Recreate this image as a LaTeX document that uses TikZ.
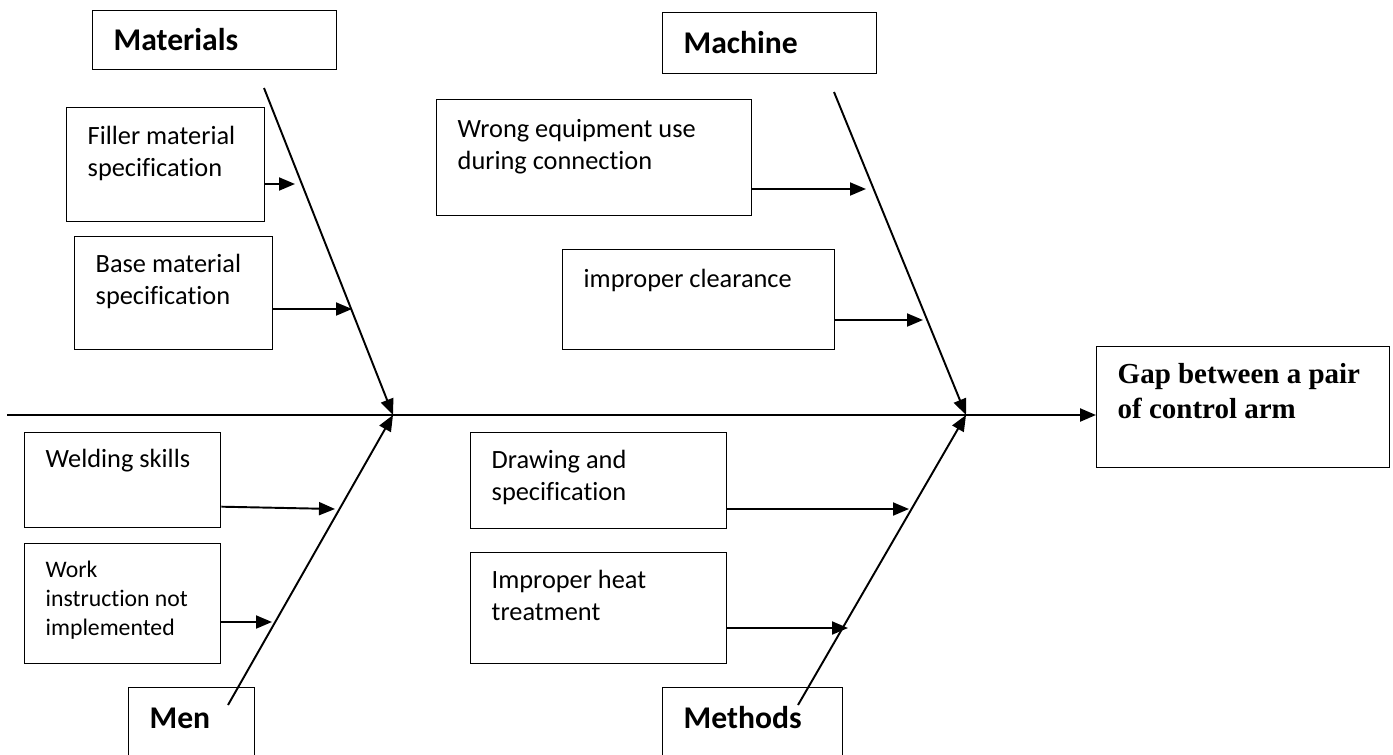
\documentclass[tikz,border=0pt]{standalone}
\usepackage{fontspec}
\setmainfont{Carlito}[Ligatures=NoCommon]
\newfontfamily\gapfont{Liberation Serif}
\usetikzlibrary{arrows.meta}

\begin{document}
\begin{tikzpicture}[x=0.02cm,y=-0.02cm,>={Triangle[length=0.32cm,width=0.26cm]},
    box/.style={draw,line width=0.8pt,anchor=north west,align=flush left,inner ysep=0pt,inner xsep=0.42cm},
    cause/.style={box,font=\fontsize{15}{18.2}\selectfont},
    head/.style={box,font=\fontsize{18}{20}\selectfont\bfseries,text height=0.82cm},
    bone/.style={->,line width=1.1pt}]
        \useasboundingbox (0,0) rectangle (1393,754);
        \clip (0,0) rectangle (1393,754);
        \node[head,text width=4.04cm,text height=0.8cm,text depth=0.38cm] (materials) at (92,10) {Materials};
        \node[head,text width=3.44cm,text depth=0.4cm] (machine) at (662,12) {Machine};
        \node[head,text width=1.68cm,text depth=0.8cm] (men) at (128,687) {Men};
        \node[head,text width=2.76cm,text depth=0.8cm] (methods) at (662,687) {Methods};
        \node[box,font=\gapfont\fontsize{16.5}{20}\selectfont\bfseries,text width=5.02cm,text height=0.74cm,text depth=1.68cm] (gap) at (1096,346) {Gap between a pair\\of control arm};
        \node[cause,text width=3.12cm,text height=0.74cm,text depth=1.54cm] (filler) at (66,107) {Filler material\\specification};
        \node[cause,text width=3.12cm,text height=0.72cm,text depth=1.54cm] (base) at (74,236) {Base material\\specification};
        \node[cause,text width=5.46cm,text height=0.76cm,text depth=1.56cm] (wrong) at (436,99) {Wrong equipment use\\during connection};
        \node[cause,text width=4.6cm,text height=0.76cm,text depth=1.24cm] (clearance) at (562,249) {improper clearance};
        \node[cause,text width=3.08cm,text height=0.7cm,text depth=1.2cm] (welding) at (24,432) {Welding skills};
        \node[box,font=\fontsize{13.5}{16.5}\selectfont,text width=3.08cm,text height=0.68cm,text depth=1.72cm] (work) at (24,543) {Work\\instruction not\\implemented};
        \node[cause,text width=4.28cm,text height=0.72cm,text depth=1.2cm] (drawing) at (470,432) {Drawing and\\specification};
        \node[cause,text width=4.28cm,text height=0.72cm,text depth=1.5cm] (heat) at (470,552) {Improper heat\\treatment};
        \coordinate (tail) at (7,415);
        \coordinate (matJoint) at (393,415);
        \coordinate (macJoint) at (966,415);
        \coordinate (matTop) at (264,88);
        \coordinate (macTop) at (834,92);
        \coordinate (menFoot) at (228,705);
        \coordinate (metFoot) at (798,705);
        \coordinate (fillerTip) at (295,184);
        \coordinate (baseTip) at (352,309);
        \coordinate (wrongTip) at (866,189);
        \coordinate (clearTip) at (923,320);
        \coordinate (weldTip) at (335,509);
        \coordinate (workTip) at (272,622);
        \coordinate (drawTip) at (909,509);
        \coordinate (heatTip) at (848,628);
        \draw[->,line width=1.3pt] (tail) -- (tail -| gap.west);
        \draw[bone] (matTop) -- (matJoint);
        \draw[bone] (macTop) -- (macJoint);
        \draw[bone] (menFoot) -- (matJoint);
        \draw[bone] (metFoot) -- (macJoint);
        \draw[bone] (filler.east |- fillerTip) -- (fillerTip);
        \draw[bone] (base.east |- baseTip) -- (baseTip);
        \draw[bone] (wrong.east |- wrongTip) -- (wrongTip);
        \draw[bone] (clearance.east |- clearTip) -- (clearTip);
        \draw[bone] ([yshift=-0.53cm]welding.east) -- (weldTip);
        \draw[bone] (work.east |- workTip) -- (workTip);
        \draw[bone] (drawing.east |- drawTip) -- (drawTip);
        \draw[bone] (heat.east |- heatTip) -- (heatTip);
      \end{tikzpicture}
\end{document}
